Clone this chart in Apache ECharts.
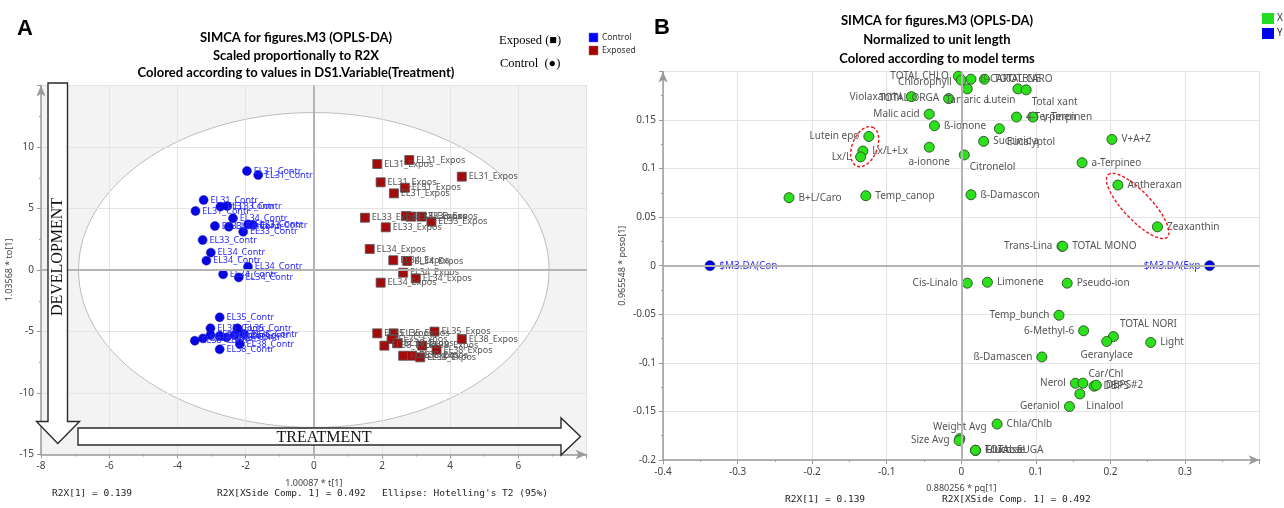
<!DOCTYPE html>
<html>
<head>
<meta charset="utf-8">
<script src="https://cdn.jsdelivr.net/npm/echarts@6/dist/echarts.min.js"></script>
<style>
  html, body { margin: 0; padding: 0; background: #fff; }
  #chart { width: 1284px; height: 508px; }
</style>
</head>
<body>
<div id="chart"></div>
<script>
// ---- Panel A: OPLS-DA score plot (t[1] vs to[1]) ----
const controlNames = [
  'EL31_Contr','EL31_Contr','EL31_Contr','EL31_Contr','EL33_Contr','EL31_Contr','EL34_Contr',
  'EL33_Contr','EL33_Contr','EL33_Contr','EL33_Contr','EL33_Contr','EL33_Contr','EL34_Contr',
  'EL34_Contr','EL34_Contr','EL34_Contr','EL34_Contr','EL35_Contr','EL35_Contr','EL35_Contr',
  'EL38_Contr','EL38_Contr','EL35_Contr','EL38_Contr','EL38_Contr','EL35_Contr','EL35_Contr',
  'EL38_Contr','EL38_Contr'
];
const controlT = [
  -1.96, -1.63, -3.23, -2.74, -2.54, -3.47, -2.37, -2.90, -2.49, -1.93, -1.78, -2.07, -3.26, -3.02,
  -3.15, -1.93, -2.66, -2.20, -2.76, -3.03, -2.24, -3.49, -3.25, -3.03, -2.76, -2.56, -2.05, -2.32,
  -2.17, -2.76
];
const controlTo = [
  8.05, 7.72, 5.69, 5.15, 5.20, 4.80, 4.20, 3.58, 3.52, 3.71, 3.66, 3.11, 2.44, 1.41,
  0.76, 0.27, -0.35, -0.60, -3.85, -4.74, -4.74, -5.75, -5.56, -5.28, -5.37, -5.48, -5.20, -5.28,
  -6.02, -6.45
];
const exposedNames = [
  'EL31_Expos','EL31_Expos','EL31_Expos','EL31_Expos','EL31_Expos','EL31_Expos','EL33_Expos',
  'EL33_Expos','EL33_Expos','EL33_Expos','EL33_Expos','EL33_Expos','EL34_Expos','EL34_Expos',
  'EL34_Expos','EL34_Expos','EL34_Expos','EL34_Expos','EL35_Expos','EL35_Expos','EL35_Expos',
  'EL38_Expos','EL35_Expos','EL38_Expos','EL38_Expos','EL38_Expos','EL38_Expos','EL38_Expos',
  'EL38_Expos','EL38_Expos'
];
const exposedT = [
  2.80, 1.86, 4.34, 1.96, 2.67, 2.35, 1.50, 2.70, 2.86, 3.16, 3.45, 2.11, 1.64, 2.33,
  2.74, 2.62, 2.99, 1.96, 1.86, 2.34, 3.54, 4.34, 2.28, 2.46, 2.07, 3.18, 3.60, 2.62,
  2.88, 3.12
];
const exposedTo = [
  8.94, 8.62, 7.59, 7.13, 6.69, 6.23, 4.25, 4.39, 4.34, 4.34, 3.93, 3.47, 1.71, 0.79,
  0.73, -0.22, -0.68, -1.03, -5.15, -5.15, -5.01, -5.61, -5.61, -5.96, -6.15, -6.15, -6.50, -6.97,
  -6.97, -7.10
];
const scoreTAxis = [-8, 8, 2];      // min, max, interval
const scoreToAxis = [-15, 15, 5];
const hotellingRadii = [6.9, 12.8]; // T2 (95%) ellipse semi-axes in t / to units

// ---- Panel B: loading plot (pq[1] vs poso[1]) ----
const loadingNames = [
  'TOTAL CHLO','Chlorophyll','ß-CAROTENE','TOTAL CARO','Tartaric a','Lutein','Total xant',
  'Violaxanthi','TOTAL ORGA','Malic acid','ß-ionone','Lutein epo','Lx/L+Lx','Lx/L','a-ionone',
  'Citronelol','Succinic a','Eucalyptol','4-Terpinen','γ-Terpinen','V+A+Z','a-Terpineo',
  'Antheraxan','Zeaxanthin','ß-Damascon','Temp_canop','B+L/Caro','Trans-Lina','TOTAL MONO',
  'Cis-Linalo','Limonene','Pseudo-ion','Temp_bunch','6-Methyl-6','TOTAL NORI','Geranylace',
  'Light','ß-Damascen','Nerol','Car/Chl','DBPS','DBPS#2','Linalool','Geraniol','Chla/Chlb',
  'Weight Avg','Size Avg','Fructose','Glucose','TOTAL SUGA'
];
const loadingPq = [
  -0.004, 0.000, 0.013, 0.031, 0.008, 0.076, 0.087,
  -0.067, -0.017, -0.043, -0.036, -0.124, -0.132, -0.135, -0.043,
  0.004, 0.030, 0.051, 0.074, 0.096, 0.202, 0.162,
  0.210, 0.263, 0.013, -0.128, -0.231, 0.135, 0.136,
  0.008, 0.035, 0.142, 0.131, 0.164, 0.204, 0.195,
  0.254, 0.108, 0.153, 0.163, 0.178, 0.181, 0.159, 0.145, 0.048,
  -0.002, -0.003, 0.019, 0.019, 0.019
];
const loadingPoso = [
  0.195, 0.191, 0.192, 0.192, 0.182, 0.182, 0.181,
  0.174, 0.172, 0.156, 0.144, 0.133, 0.118, 0.112, 0.122,
  0.114, 0.128, 0.141, 0.153, 0.153, 0.130, 0.106,
  0.083, 0.040, 0.073, 0.072, 0.070, 0.020, 0.020,
  -0.018, -0.017, -0.018, -0.051, -0.067, -0.073, -0.078,
  -0.079, -0.094, -0.121, -0.121, -0.124, -0.123, -0.132, -0.145, -0.163,
  -0.178, -0.180, -0.190, -0.190, -0.190
];
const responseNames = ['$M3.DA(Con', '$M3.DA(Exp'];
const responsePq = [-0.337, 0.333];
const responsePoso = [0, 0];
const loadingPqAxis = [-0.4, 0.4, 0.1];
const loadingPosoAxis = [-0.2, 0.2, 0.05];

// Label placement of the loading names: [side, dx, dy]; names not listed sit on the right
const loadingLabelPlace = {
  'TOTAL CHLO': ['left', 0, 0], 'Chlorophyll': ['left', 0, 2], 'Violaxanthi': ['left', 0, 0],
  'TOTAL ORGA': ['left', 0, 0], 'Malic acid': ['left', 0, 0], 'Lutein epo': ['left', 0, 0],
  'Lx/L': ['left', 0, 0], 'Trans-Lina': ['left', 0, 0], 'Cis-Linalo': ['left', 0, 0],
  'Temp_bunch': ['left', 0, 0], '6-Methyl-6': ['left', 0, 0], 'ß-Damascen': ['left', 0, 0],
  'Nerol': ['left', 0, 0], 'Geraniol': ['left', 0, 0], 'Size Avg': ['left', 0, 0],
  'a-ionone': ['bottom', 0, 0], 'Tartaric a': ['bottom', 0, -3], 'Geranylace': ['bottom', 0, -1],
  'Weight Avg': ['top', 0, 3], 'Car/Chl': ['top', 23, 5],
  'Lutein': ['left', 7, 11], 'Total xant': ['right', -4, 12], 'Citronelol': ['right', -4, 12],
  'Eucalyptol': ['right', -2, 13], 'TOTAL NORI': ['right', -3, -12], 'Linalool': ['right', -3, 12]
};

// Dashed highlight rings around groups of loadings: [first, second, major, minor] (px)
const loadingRings = [
  ['Lutein epo', 'Lx/L', 21, 12.5],
  ['Antheraxan', 'Zeaxanthin', 43, 14]
];

const SANS = '"Noto Sans", sans-serif';
const SERIF = '"Liberation Serif", "DejaVu Serif", serif';
const MONO = '"DejaVu Sans Mono", monospace';

function zip(xs, ys, names) {
  return xs.map((x, i) => ({ name: names[i], value: [x, ys[i]] }));
}

function valueAxis(gridIndex, range, name, nameGap, minorSplit) {
  return {
    type: 'value', gridIndex: gridIndex,
    min: range[0], max: range[1], interval: range[2],
    name: name, nameLocation: 'middle', nameGap: nameGap,
    nameTextStyle: { fontSize: 9, color: '#444', fontFamily: SANS },
    axisLine: {
      show: true, onZero: false, symbol: ['none', 'arrow'], symbolSize: [7, 11],
      lineStyle: { color: '#9a9a9a', width: 1.5 }
    },
    axisTick: { show: true, length: 4, lineStyle: { color: '#9a9a9a' } },
    minorTick: { show: true, splitNumber: minorSplit, length: 2, lineStyle: { color: '#9a9a9a' } },
    axisLabel: { show: true, fontSize: 10, color: '#444', fontFamily: SANS, margin: 7, showMaxLabel: false },
    splitLine: { show: true, lineStyle: { color: '#e4e4e4', width: 1 } },
    minorSplitLine: { show: false }
  };
}

const zeroLines = (xi) => ({
  type: 'scatter', xAxisIndex: xi, yAxisIndex: xi, data: [], silent: true, z: 1,
  markLine: {
    silent: true, symbol: ['none', 'none'], label: { show: false },
    lineStyle: { color: '#b4b4b4', width: 2, type: 'solid' },
    emphasis: { disabled: true },
    data: [{ xAxis: 0 }, { yAxis: 0 }]
  }
});

const loadingData = loadingNames.map((n, i) => {
  const p = loadingLabelPlace[n] || ['right', 0, 0];
  return { name: n, value: [loadingPq[i], loadingPoso[i]], label: { position: p[0], offset: [p[1], p[2]] } };
});

const chart = echarts.init(document.getElementById('chart'), null, { renderer: 'canvas' });

chart.setOption({
  animation: false,
  backgroundColor: '#ffffff',
  grid: [
    { left: 41, top: 85.5, width: 545.6, height: 369 },
    { left: 663, top: 71.4, width: 596.6, height: 388.6 }
  ],
  xAxis: [
    valueAxis(0, scoreTAxis, '1.00087 * t[1]', 24, 2),
    valueAxis(1, loadingPqAxis, '0.880256 * pq[1]', 24, 2)
  ],
  yAxis: [
    valueAxis(0, scoreToAxis, '1.03568 * to[1]', 27, 2),
    valueAxis(1, loadingPosoAxis, '0.965548 * poso[1]', 36, 2)
  ],
  series: [
    zeroLines(0),
    zeroLines(1),
    {
      name: 'Control', type: 'scatter', xAxisIndex: 0, yAxisIndex: 0, z: 3,
      data: zip(controlT, controlTo, controlNames),
      symbol: 'circle', symbolSize: 9,
      itemStyle: { color: '#0505e6', borderColor: '#1a1a9a', borderWidth: 0.5, opacity: 1 },
      label: { show: true, position: 'right', distance: 2, formatter: '{b}', fontSize: 9, fontFamily: SANS, color: '#2a2aff' },
      emphasis: { disabled: true }
    },
    {
      name: 'Exposed', type: 'scatter', xAxisIndex: 0, yAxisIndex: 0, z: 3,
      data: zip(exposedT, exposedTo, exposedNames),
      symbol: 'rect', symbolSize: 9,
      itemStyle: { color: '#a40c0c', borderColor: '#555', borderWidth: 0.8, opacity: 1 },
      label: { show: true, position: 'right', distance: 2, formatter: '{b}', fontSize: 9, fontFamily: SANS, color: '#555' },
      emphasis: { disabled: true }
    },
    {
      name: 'X', type: 'scatter', xAxisIndex: 1, yAxisIndex: 1, z: 3,
      data: loadingData,
      symbol: 'circle', symbolSize: 10,
      itemStyle: { color: '#2de01c', borderColor: '#2f5f25', borderWidth: 1, opacity: 1 },
      label: { show: true, position: 'right', distance: 4, formatter: '{b}', fontSize: 10, fontFamily: SANS, color: '#555' },
      emphasis: { disabled: true }
    },
    {
      name: 'Y', type: 'scatter', xAxisIndex: 1, yAxisIndex: 1, z: 3,
      data: responseNames.map((n, i) => ({
        name: n, value: [responsePq[i], responsePoso[i]],
        label: { position: i === 0 ? 'right' : 'left' }
      })),
      symbol: 'circle', symbolSize: 10,
      itemStyle: { color: '#0000ea', borderColor: '#111166', borderWidth: 0.6, opacity: 1 },
      label: { show: true, distance: 4, formatter: '{b}', fontSize: 10, fontFamily: SANS, color: '#3232ff' },
      emphasis: { disabled: true }
    }
  ]
});

// ---- decorations placed through the coordinate systems ----
function toPx(grid, x, y) { return chart.convertToPixel({ gridIndex: grid }, [x, y]); }

function text(x, y, str, font, extra) {
  return {
    type: 'text', x: x, y: y, z: 30, silent: true,
    style: Object.assign({ text: str, font: font, fill: '#000', align: 'center', verticalAlign: 'middle',
      textAlign: 'center', textVerticalAlign: 'middle' }, extra || {})
  };
}

const g = [];

// score plot backdrop and Hotelling T2 ellipse (under the grid lines)
const a0 = toPx(0, scoreTAxis[0], scoreToAxis[1]);
const a1 = toPx(0, scoreTAxis[1], scoreToAxis[0]);
g.push({ type: 'rect', z: -20, silent: true,
  shape: { x: a0[0], y: a0[1], width: a1[0] - a0[0], height: a1[1] - a0[1] },
  style: { fill: '#f3f3f3' } });
const c0 = toPx(0, 0, 0);
const cr = toPx(0, hotellingRadii[0], hotellingRadii[1]);
g.push({ type: 'ellipse', z: -19, silent: true,
  shape: { cx: c0[0], cy: c0[1], rx: cr[0] - c0[0], ry: c0[1] - cr[1] },
  style: { fill: '#ffffff', stroke: '#bdbdbd', lineWidth: 1 } });

// dashed rings on the loading plot
loadingRings.forEach(r => {
  const i1 = loadingNames.indexOf(r[0]), i2 = loadingNames.indexOf(r[1]);
  const p1 = toPx(1, loadingPq[i1], loadingPoso[i1]);
  const p2 = toPx(1, loadingPq[i2], loadingPoso[i2]);
  const cx = (p1[0] + p2[0]) / 2, cy = (p1[1] + p2[1]) / 2;
  const ang = Math.atan2(-(p2[1] - p1[1]), p2[0] - p1[0]);
  g.push({ type: 'ellipse', z: 20, silent: true, x: cx, y: cy, rotation: ang,
    shape: { cx: 0, cy: 0, rx: r[2], ry: r[3] },
    style: { fill: 'none', stroke: '#e8191c', lineWidth: 1.4, lineDash: [3, 2] } });
});

// DEVELOPMENT / TREATMENT arrows
g.push({ type: 'polygon', z: 25, silent: true,
  shape: { points: [[48, 83], [67.5, 83], [67.5, 421.5], [79.5, 421.5], [57.8, 443.5], [36.5, 421.5], [48, 421.5]] },
  style: { fill: '#ffffff', stroke: '#2a2a2a', lineWidth: 1.4 } });
g.push({ type: 'polygon', z: 25, silent: true,
  shape: { points: [[78, 428], [561, 428], [561, 418], [580.5, 436.5], [561, 455], [561, 445], [78, 445]] },
  style: { fill: '#ffffff', stroke: '#2a2a2a', lineWidth: 1.4 } });
g.push(Object.assign(text(58, 257, 'DEVELOPMENT', '16px ' + SERIF, { fill: '#111' }), { rotation: Math.PI / 2 }));
g.push(text(324, 437.5, 'TREATMENT', '16px ' + SERIF, { fill: '#111' }));

// panel letters and titles
g.push(text(25, 29, 'A', 'bold 22px "Liberation Sans", Arial, sans-serif'));
g.push(text(662, 27.5, 'B', 'bold 22px "Liberation Sans", Arial, sans-serif'));
const TITLE = 'bold 13px Lato, "Noto Sans", sans-serif';
g.push(text(296, 38, 'SIMCA for figures.M3 (OPLS-DA)', TITLE));
g.push(text(296, 55.5, 'Scaled proportionally to R2X', TITLE));
g.push(text(296, 73, 'Colored according to values in DS1.Variable(Treatment)', TITLE));
g.push(text(937, 20.5, 'SIMCA for figures.M3 (OPLS-DA)', TITLE));
g.push(text(937, 39.5, 'Normalized to unit length', TITLE));
g.push(text(937, 58.5, 'Colored according to model terms', TITLE));

// symbol key (serif) and colour legends
g.push(text(499, 41, 'Exposed (■)', '12.5px ' + SERIF, { align: 'left', textAlign: 'left' }));
g.push(text(500, 64, 'Control  (●)', '12.5px ' + SERIF, { align: 'left', textAlign: 'left' }));
g.push({ type: 'rect', z: 30, silent: true, shape: { x: 589, y: 33, width: 9, height: 9 }, style: { fill: '#0000ff', stroke: '#6a6aff', lineWidth: 0.5 } });
g.push({ type: 'rect', z: 30, silent: true, shape: { x: 589, y: 46, width: 9, height: 9 }, style: { fill: '#a50000', stroke: '#c06060', lineWidth: 0.5 } });
g.push(text(602, 37.5, 'Control', '8.5px ' + SANS, { align: 'left', textAlign: 'left', fill: '#333' }));
g.push(text(602, 50.5, 'Exposed', '8.5px ' + SANS, { align: 'left', textAlign: 'left', fill: '#333' }));
g.push({ type: 'rect', z: 30, silent: true, shape: { x: 1262, y: 13, width: 12, height: 11 }, style: { fill: '#22dd22' } });
g.push({ type: 'rect', z: 30, silent: true, shape: { x: 1262, y: 28, width: 12, height: 11 }, style: { fill: '#0000ee' } });
g.push(text(1277, 18.5, 'X', '10px ' + SANS, { align: 'left', textAlign: 'left', fill: '#333' }));
g.push(text(1277, 33.5, 'Y', '10px ' + SANS, { align: 'left', textAlign: 'left', fill: '#333' }));

// model statistics under each plot
const STAT = '9.5px ' + MONO;
g.push(text(52, 494, 'R2X[1] = 0.139', STAT, { align: 'left', textAlign: 'left', fill: '#222' }));
g.push(text(217, 494, 'R2X[XSide Comp. 1] = 0.492', STAT, { align: 'left', textAlign: 'left', fill: '#222' }));
g.push(text(382, 494, "Ellipse: Hotelling's T2 (95%)", STAT, { align: 'left', textAlign: 'left', fill: '#222' }));
g.push(text(785, 500, 'R2X[1] = 0.139', STAT, { align: 'left', textAlign: 'left', fill: '#222' }));
g.push(text(942, 500, 'R2X[XSide Comp. 1] = 0.492', STAT, { align: 'left', textAlign: 'left', fill: '#222' }));

chart.setOption({ graphic: g });
</script>
</body>
</html>
